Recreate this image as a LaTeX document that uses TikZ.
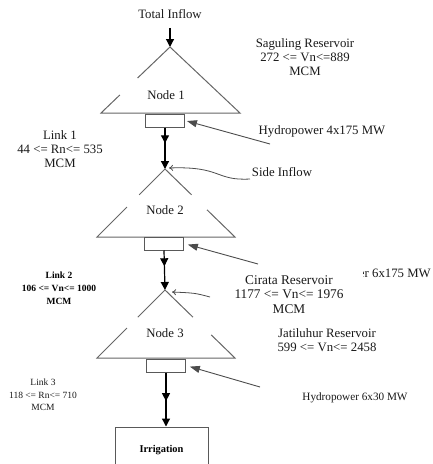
\documentclass[tikz,border=0pt]{standalone}
\usepackage{fontspec}
\setmainfont{Liberation Serif}
\usetikzlibrary{arrows.meta,decorations.markings,calc}
\begin{document}
\begin{tikzpicture}[x=1pt,y=-1pt,
  tri/.style={draw=black!60, line width=1pt},
  hbox/.style={draw=black!65, line width=1pt, minimum width=39pt, minimum height=13pt, inner sep=0pt},
  flow/.style={draw=black, line width=1.2pt, -{Triangle[length=8pt,width=8pt]}},
  midtip/.style={postaction={decorate}, decoration={markings, mark=at position #1 with {\arrow{Triangle[length=8pt,width=8pt]}}}},
  hp/.style={draw=black!70, line width=0.9pt, -{Triangle[length=10pt,width=7pt]}},
  side/.style={draw=black!70, line width=0.8pt, -{To[length=4pt,width=6pt]}},
  txt/.style={font=\fontsize{12.8}{14}\selectfont, align=center, inner sep=0pt, text=black!90},
  smalltxt/.style={font=\fontsize{9.5}{12.5}\selectfont, align=center, inner sep=0pt, text=black!90},
  smallbold/.style={font=\bfseries\fontsize{9.5}{13}\selectfont, align=center, inner sep=0pt, text=black},
  cover/.style={fill=white, inner sep=0pt}
]
\useasboundingbox (0,0) rectangle (432,464);
\clip (0,0) rectangle (432,464);

% triangles (reservoir nodes)
\coordinate (A1) at (170,47); \coordinate (L1) at (101,113); \coordinate (R1) at (240,113);
\coordinate (A2) at (165,169); \coordinate (L2) at (97,237); \coordinate (R2) at (235,237);
\coordinate (A3) at (165,290); \coordinate (L3) at (97,358); \coordinate (R3) at (235,358);

\draw[tri] ($(A1)!0.47!(L1)$) -- (A1) -- (R1) -- (L1) -- ($(A1)!0.727!(L1)$);
\draw[tri] ($(A2)!0.38!(L2)$) -- (A2) -- ($(A2)!0.38!(R2)$);
\draw[tri] ($(A2)!0.6!(R2)$) -- (R2) -- (L2) -- ($(A2)!0.56!(L2)$);
\draw[tri] ($(A3)!0.40!(L3)$) -- (A3) -- ($(A3)!0.40!(R3)$);
\draw[tri] ($(A3)!0.66!(R3)$) -- (R3) -- (L3) -- ($(A3)!0.56!(L3)$);

\node[txt] (n1) at (166,95) {Node 1};
\node[txt] (n2) at (165,210) {Node 2};
\node[txt] (n3) at (165,333) {Node 3};

% hydropower boxes
\node[hbox] (b1) at (165,120.5) {};
\node[hbox] (b2) at (164,243.5) {};
\node[hbox] (b3) at (166,365.5) {};

% irrigation
\node[draw=black!65, line width=1pt, minimum width=93pt, minimum height=46pt, inner sep=0pt,
      font=\bfseries\fontsize{10.4}{12}\selectfont] (irr) at (161.5,450) {Irrigation};

% flows
\node[txt] (ti) at (170,14) {Total Inflow};
\draw[flow] ([yshift=-9pt]ti.south) -- (A1);
\draw[flow, midtip=0.38] (b1.south) -- (A2);
\draw[flow, midtip=0.40] (b2.south) -- (A3);
\draw[flow, midtip=0.53] (b3.south) -- (b3.south |- irr.north);

% labels
\node[txt] (sag) at (305,57) {Saguling Reservoir\\272 <= Vn<=889\\MCM};
\node[txt] (hp1) at (322,131) {Hydropower 4x175 MW};
\node[txt] (lk1) at (60,149) {Link 1\\44 <= Rn<= 535\\MCM};
\node[txt] (si) at (282,172) {Side Inflow};
\node[smallbold] (lk2) at (59,288) {Link 2\\106 <= Vn<= 1000\\MCM};
\node[txt, anchor=east] (hp2) at (431,273) {er 6x175 MW};
\path (hp2.west) ++(4.5,0) coordinate (cr);
\coordinate (cy) at (0,291.5);
\node[cover, minimum width=148pt, minimum height=53pt, anchor=east] (cir) at (cr |- cy) {};
\node[txt, font=\fontsize{13.3}{14.5}\selectfont] (cirt) at (289,294.5) {Cirata Reservoir\\1177 <= Vn<= 1976\\MCM};
\node[txt] (jat) at (327,340) {Jatiluhur Reservoir\\599 <= Vn<= 2458};
\node[smalltxt] (lk3) at (43,395) {Link 3\\118 <= Rn<= 710\\MCM};
\node[txt, font=\fontsize{11.2}{13}\selectfont] (hp3) at (355,398) {Hydropower 6x30 MW};

% pointer arrows
\coordinate (h1s) at (270,144);
\coordinate (h2s) at (258,264);
\coordinate (h3s) at (260,387);
\draw[hp, shorten >=2pt] (h1s) -- (b1.east);
\draw[hp, shorten >=4pt] (h2s) -- (b2.east);
\draw[hp, shorten >=4pt] (h3s) -- (b3.east);

% side inflows
\coordinate (s1) at (250,179);
\coordinate (A2r) at (169,168);
\draw[side] (s1) .. controls (215,181) and (222,166) .. (A2r);
\coordinate (s2) at (210,297);
\coordinate (A3r) at (172,292);
\draw[side] (s2) .. controls (195,293) .. (A3r);
\end{tikzpicture}
\end{document}
